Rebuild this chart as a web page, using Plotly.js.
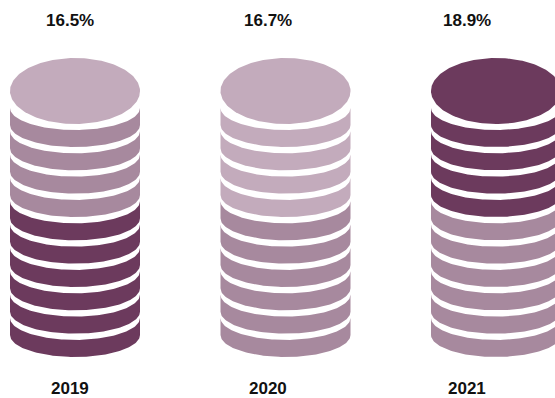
<!DOCTYPE html>
<html>
<head>
<meta charset="utf-8">
<script src="https://cdn.plot.ly/plotly-3.0.1.min.js"></script>
<style>html,body{margin:0;padding:0;background:#fff;}#chart{width:555px;height:398px;}</style>
</head>
<body>
<div id="chart"></div>
<script>
// ---- data ----
const years = ['2019', '2020', '2021'];
const shares = [16.5, 16.7, 18.9];
const topColors = ['#c3abbc', '#c3abbc', '#6c3a5d'];
const upperColors = ['#a7899e', '#c3abbc', '#6c3a5d'];
const lowerColors = ['#6c3a5d', '#a7899e', '#a7899e'];
const upperCount = 4;
const lowerCount = 6;

// ---- coin geometry (in axis units) ----
const RX = 0.3088, RY_TOP = 1.414, SAG = 0.943, GAP = 0.27, B0 = 1.4, N = 90;

const traces = [];
years.forEach((yr, i) => {
  const nBands = upperCount + lowerCount;
  for (let k = 1; k <= nBands; k++) {
    const xs = [], ys = [];
    for (let j = 0; j <= N; j++) {
      const t = Math.PI * j / N;
      const u = -Math.cos(t);
      xs.push(i + RX * u);
      ys.push(B0 + (k - 1) + GAP - SAG + SAG * Math.sin(t));
    }
    for (let j = N; j >= 0; j--) {
      const t = Math.PI * j / N;
      const u = -Math.cos(t);
      xs.push(i + RX * u);
      ys.push(B0 + k - SAG + SAG * Math.sin(t));
    }
    const col = k <= upperCount ? upperColors[i] : lowerColors[i];
    traces.push({x: xs, y: ys, type: 'scatter', mode: 'lines', fill: 'toself',
      fillcolor: col, line: {width: 0, color: col}, hoverinfo: 'skip'});
  }
  const ex = [], ey = [];
  for (let j = 0; j <= 2 * N; j++) {
    const t = Math.PI * j / N;
    ex.push(i + RX * Math.cos(t));
    ey.push(RY_TOP * Math.sin(t));
  }
  traces.push({x: ex, y: ey, type: 'scatter', mode: 'lines', fill: 'toself',
    fillcolor: topColors[i], line: {width: 0, color: topColors[i]}, hoverinfo: 'skip'});
});

const font = {family: 'Liberation Sans, Arial, sans-serif', size: 17, color: '#111', weight: 'bold'};
const annotations = [];
years.forEach((yr, i) => {
  annotations.push({xref: 'x2', yref: 'paper', x: i, y: 1 - 20.5 / 398, text: shares[i].toFixed(1) + '%',
    showarrow: false, xanchor: 'center', yanchor: 'middle', font: font});
  annotations.push({xref: 'x2', yref: 'paper', x: i, y: 1 - 388 / 398, text: yr,
    showarrow: false, xanchor: 'center', yanchor: 'middle', font: font});
});

const layout = {
  width: 555, height: 398,
  margin: {l: 0, r: 0, t: 0, b: 0, pad: 0},
  paper_bgcolor: '#fff', plot_bgcolor: '#fff',
  showlegend: false,
  hovermode: false,
  xaxis: {range: [-75 / 210.5, (555 - 75) / 210.5], visible: false, fixedrange: true},
  xaxis2: {range: [-70.4 / 198.05, (555 - 70.4) / 198.05], overlaying: 'x', visible: false, fixedrange: true},
  yaxis: {range: [(398 - 91) / 23.33, -91 / 23.33], visible: false, fixedrange: true},
  annotations: annotations
};

Plotly.newPlot('chart', traces, layout, {staticPlot: true, displayModeBar: false});
</script>
</body>
</html>
